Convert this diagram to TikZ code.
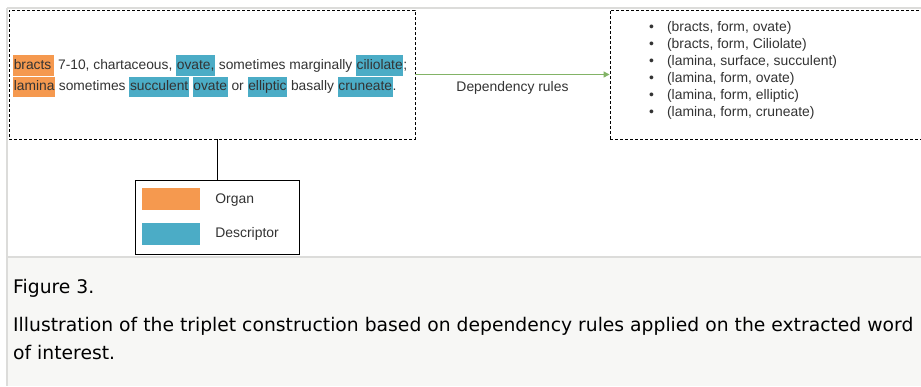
\documentclass[tikz,border=0pt]{standalone}
\usepackage{fontspec}
\setmainfont{Liberation Sans}
\newfontfamily\capfont{DejaVu Sans}
\usetikzlibrary{arrows.meta,positioning}
\definecolor{organclr}{HTML}{F5994F}
\definecolor{descrclr}{HTML}{4BACC6}
\definecolor{ruleclr}{HTML}{82B366}
\definecolor{txtclr}{HTML}{333333}
\definecolor{frameclr}{HTML}{DCDCDA}
\definecolor{capbg}{HTML}{F7F7F5}
\newcommand{\organ}[1]{{\setlength{\fboxsep}{0.6pt}\colorbox{organclr}{\strut #1}}}
\newcommand{\descr}[1]{{\setlength{\fboxsep}{0.6pt}\colorbox{descrclr}{\strut #1}}}
\tikzset{
  dashbox/.style={draw=black, line width=0.9pt, dash pattern=on 3pt off 2pt, minimum height=129pt, inner sep=0pt},
  legendbox/.style={draw=black, line width=0.9pt, minimum width=164pt, minimum height=74pt, inner sep=0pt},
  swatch/.style={minimum width=58pt, minimum height=22pt, inner sep=0pt},
  plain/.style={text=txtclr, font=\fontsize{13.9}{16}\selectfont, inner sep=0pt},
  captext/.style={anchor=base west, inner sep=0pt, text=black, font=\capfont\fontsize{18.75}{28.5}\selectfont},
}
\begin{document}
\begin{tikzpicture}[x=1pt,y=-1pt]
			%%%%% FRAME %%%%%
			\useasboundingbox (0,0) rectangle (921,386);
			\fill[white] (0,0) rectangle (921,386);
			\fill[capbg] (7,257) rectangle (921,386);
			\draw[frameclr, line width=1.2pt] (7,8) -- (921,8);
			\draw[frameclr, line width=1.2pt] (7,8) -- (7,386);
			\draw[frameclr, line width=1.2pt] (7,257) -- (921,257);
			
			%%%%% BOXES %%%%%
			\node[dashbox, minimum width=406pt] (sentence) at (212,74.5) {};
			\node[plain, anchor=west, align=left, font=\fontsize{13.8}{19}\selectfont] (words) at (13,76)
			  {\organ{bracts\,} 7-10, chartaceous, \descr{ovate,} sometimes marginally \descr{ciliolate};\\
			   \organ{lamina} sometimes \descr{succulent} \descr{ovate} or \descr{elliptic} basally \descr{cruneate}.};
			
			\node[dashbox, minimum width=320pt] (triplets) at (770,74.5) {};
			\node[plain, anchor=west, align=left, font=\fontsize{13.9}{17}\selectfont] (list) at (649,70)
			  {\textbullet\hspace{13pt}(bracts, form, ovate)\\
			   \textbullet\hspace{13pt}(bracts, form, Ciliolate)\\
			   \textbullet\hspace{13pt}(lamina, surface, succulent)\\
			   \textbullet\hspace{13pt}(lamina, form, ovate)\\
			   \textbullet\hspace{13pt}(lamina, form, elliptic)\\
			   \textbullet\hspace{13pt}(lamina, form, cruneate)};
			
			\draw[ruleclr, line width=1.2pt, -{Triangle[length=6pt,width=6pt]}] (sentence.east) -- (triplets.west)
			  node[midway, below=6pt, plain] (rules) {Dependency rules};
			
			%%%%% LEGEND %%%%%
			\node[legendbox] (legend) at (217,217) {};
			\node[swatch, fill=organclr] (organ) at (171,199) {};
			\node[swatch, fill=descrclr] (descr) at (171,234) {};
			\node[plain, anchor=west, right=15pt of organ, yshift=-1.5pt] (organlbl) {Organ};
			\node[plain, anchor=west, right=15pt of descr] (descrlbl) {Descriptor};
			\draw[line width=0.9pt] (legend.north) -- (legend.north |- sentence.south);
			
			%%%%% CAPTION %%%%%
			\node[captext] (fig) at (13,293.5) {Figure 3.};
			\node[captext, align=left] (caption) at (13,359.5)
			  {Illustration of the triplet construction based on dependency rules applied on the extracted word\\ of interest.};
\end{tikzpicture}
\end{document}
